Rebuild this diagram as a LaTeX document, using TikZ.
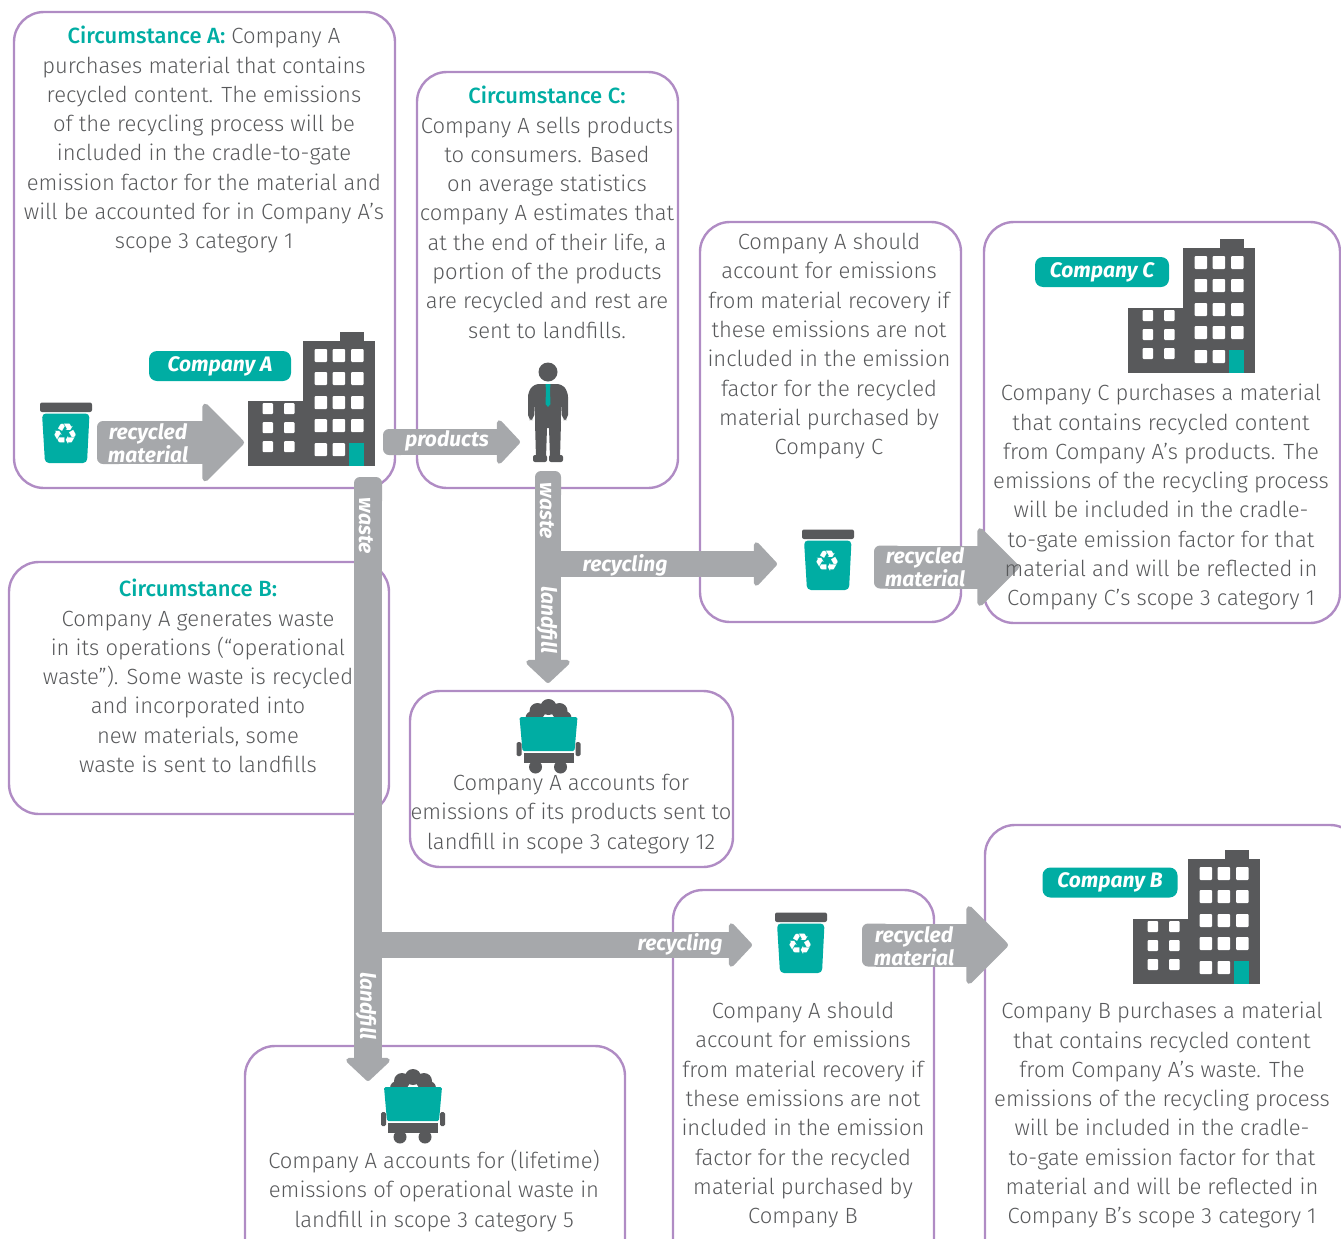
\documentclass[tikz,border=0pt]{standalone}
\usepackage{fontspec}
\usetikzlibrary{arrows.meta}
\setmainfont{Fira Sans Light}[BoldFont=Fira Sans Medium,BoldItalicFont=Fira Sans Bold Italic]
\newfontfamily\symfont{DejaVu Sans}
\definecolor{boxpurple}{HTML}{B08CC4}
\definecolor{tealgreen}{HTML}{00ADA3}
\definecolor{arrowgrey}{HTML}{A6A8AB}
\definecolor{icongrey}{HTML}{58595B}

\tikzset{
  roundbox/.style={draw=boxpurple,line width=2.4pt,rounded corners=30pt},
  bodytext/.style={align=center,anchor=north,inner sep=0pt,text=icongrey,font=\fontsize{22}{29.3}\selectfont},
  headtext/.style={font=\fontsize{22}{29.3}\selectfont\bfseries,text=tealgreen},
  arrowtext/.style={align=center,inner sep=0pt,text=white,font=\fontsize{21}{21}\selectfont\bfseries\itshape},
  companytag/.style={fill=tealgreen,rounded corners=8pt,text=white,inner sep=0pt,minimum height=30pt,font=\fontsize{21}{21}\selectfont\bfseries\itshape},
  tailbox/.style 2 args={fill=arrowgrey,rounded corners=6pt,inner sep=0pt,minimum width=#1,minimum height=#2},
  bigarrow/.style={draw=arrowgrey,line width=43pt,-{Triangle[length=43pt,width=85pt,round,line width=6pt,fill=arrowgrey,color=arrowgrey]}},
  smallarrow/.style={draw=arrowgrey,line width=26pt,-{Triangle[length=24pt,width=50pt,round,line width=5pt,fill=arrowgrey,color=arrowgrey]}},
  binicon/.pic={
    \fill[icongrey,rounded corners=2pt] (0,0.5) rectangle (52,10);
    \fill[icongrey] (22,1) arc (180:0:4);
    \fill[tealgreen,rounded corners=4pt] (2,11.5) -- (49.5,11.5) -- (47,61) -- (5,61) -- cycle;
    \node[text=white,inner sep=0pt,font=\symfont\fontsize{29}{29}\selectfont] (-sym) at (25.8,32) {\char"267B};
  },
  towericon/.pic={
    \fill[icongrey] (92,0) rectangle (116,10);
    \fill[icongrey] (55,9) rectangle (127,134);
    \fill[icongrey] (0,69) rectangle (56,134);
    \foreach \wx in {66.5,84.5,103} {
      \foreach \wy in {17,40,64,87} {
        \fill[white,rounded corners=1pt] (\wx,\wy) rectangle +(12.5,13);
      }
    }
    \fill[white,rounded corners=1pt] (66.5,111) rectangle +(12.5,13);
    \fill[white,rounded corners=1pt] (84.5,111) rectangle +(12.5,13);
    \fill[tealgreen] (101,111) rectangle (116,134);
    \foreach \wx in {14.5,36} {
      \foreach \wy in {71,90,109} {
        \fill[white,rounded corners=1pt] (\wx,\wy) rectangle +(10.5,11);
      }
    }
  },
  carticon/.pic={
    \fill[icongrey] (0,8) circle (8);
    \fill[icongrey] (-11,12) circle (8);
    \fill[icongrey] (11,12) circle (8);
    \fill[icongrey] (-16,19) circle (7);
    \fill[icongrey] (16,19) circle (7);
    \fill[tealgreen,rounded corners=1.5pt] (-29,18) -- (29,18) -- (26,52) -- (-26,52) -- cycle;
    \fill[icongrey,rounded corners=1.5pt] (-32,43) rectangle (-27,57);
    \fill[icongrey,rounded corners=1.5pt] (27,43) rectangle (32,57);
    \fill[icongrey] (-25,54) rectangle (25,64);
    \fill[icongrey] (-13,68) circle (6.5);
    \fill[icongrey] (12,68) circle (6.5);
  },
  personicon/.pic={
    \fill[icongrey] (0,10) circle (9.5);
    \fill[icongrey,rounded corners=5pt] (-20,58) -- (-20,30) -- (-14,22) -- (14,22) -- (20,30) -- (20,58) -- (14,58) -- (13,40) -- (-13,40) -- (-14,58) -- cycle;
    \fill[icongrey] (-13,30) rectangle (13,66);
    \fill[icongrey] (-13,60) -- (13,60) -- (12,96) -- (2,96) -- (1,66) -- (-1,66) -- (-2,96) -- (-12,96) -- cycle;
    \fill[icongrey,rounded corners=2pt] (-15,93) rectangle (-1,100);
    \fill[icongrey,rounded corners=2pt] (1,93) rectangle (15,100);
    \fill[tealgreen] (-2.5,22) -- (2.5,22) -- (2,28) -- (2.5,42) -- (0,45) -- (-2.5,42) -- (-2,28) -- cycle;
  }
}

\begin{document}
\begin{tikzpicture}[x=1pt,y=-1pt]
\useasboundingbox (0,0) rectangle (1341,1239);

% boxes
\draw[roundbox] (14,12) rectangle (395,488);
\draw[roundbox] (417,72) rectangle (678,488);
\draw[roundbox] (700,222) rectangle (961,622);
\draw[roundbox] (984,222) rectangle (1340,623);
\draw[roundbox] (9,562) rectangle (389,814);
\draw[roundbox] (410,691) rectangle (733,867);
\draw[roundbox] (245,1046) rectangle (625,1270);
\draw[roundbox] (673,890) rectangle (934,1270);
\draw[roundbox] (985,825) rectangle (1360,1270);

% block arrows
\coordinate (towerA) at (244,442.5);
\coordinate (manC) at (520,442);
\coordinate (dumpA) at (368,1081);
\coordinate (dumpC) at (548,683);
\coordinate (binC) at (777,564);
\coordinate (towerC) at (1019,567);
\coordinate (binB) at (752,945);
\coordinate (towerB) at (1008,945);
\coordinate (forkA) at (368,945);
\coordinate (forkC) at (548,564);

\node[tailbox={28pt}{43pt}] (tailA) at (111,442.5) {};
\node[tailbox={24pt}{26pt}] (tailP) at (395,442) {};
\node[tailbox={28pt}{30pt}] (tailWA) at (368,492) {};
\node[tailbox={26pt}{30pt}] (tailWC) at (548,486) {};
\node[tailbox={28pt}{43pt}] (tailC) at (888,567) {};
\node[tailbox={28pt}{43pt}] (tailB) at (876,945) {};

\draw[bigarrow] (tailA.center) -- (towerA);
\draw[smallarrow] (tailP.center) -- (manC);
\draw[smallarrow,line width=28pt] (tailWA.center) -- (dumpA);
\draw[smallarrow] (tailWC.center) -- (dumpC);
\draw[smallarrow] (forkC) -- (binC);
\draw[bigarrow] (tailC.center) -- (towerC);
\draw[smallarrow] (forkA) -- (binB);
\draw[bigarrow] (tailB.center) -- (towerB);

% arrow labels
\node[arrowtext] (labA) at (148,443) {recycled\\material};
\node[arrowtext] (labP) at (447,441) {products};
\node[arrowtext,rotate=-90] (labWA) at (366,526) {waste};
\node[arrowtext,rotate=-90] (labWC) at (547,511) {waste};
\node[arrowtext,rotate=-90] (labLA) at (366,1006) {landfill};
\node[arrowtext,rotate=-90] (labLC) at (547,620) {landfill};
\node[arrowtext] (labRC) at (625,565) {recycling};
\node[arrowtext] (labRB) at (680,944) {recycling};
\node[arrowtext] (labMC) at (925,567) {recycled\\material};
\node[arrowtext] (labMB) at (914,946) {recycled\\material};

% icons
\pic at (40,402) {binicon};
\pic at (802,529) {binicon};
\pic at (775,912) {binicon};
\pic at (248,332) {towericon};
\pic at (1128,239) {towericon};
\pic at (1133,850) {towericon};
\pic at (548.5,699) {carticon};
\pic at (413,1069) {carticon};
\pic at (548,362) {personicon};

\node[companytag,minimum width=142pt] (tagA) at (220,366) {Company A};
\node[companytag,minimum width=134pt] (tagC) at (1102,272) {Company C};
\node[companytag,minimum width=135pt] (tagB) at (1110,882.5) {Company B};

% texts
\node[bodytext] (textA) at (204,26) {{\bfseries\color{tealgreen}Circumstance A:} Company A\\purchases material that contains\\recycled content. The emissions\\of the recycling process will be\\included in the cradle-to-gate\\emission factor for the material and\\will be accounted for in Company A's\\scope 3 category 1};
\node[bodytext] (textC) at (547,86) {{\bfseries\color{tealgreen}Circumstance C:}\\Company A sells products\\to consumers. Based\\on average statistics\\company A estimates that\\at the end of their life, a\\portion of the  products\\are recycled and rest are\\sent to landfills.};
\node[bodytext] (textMC) at (829,233) {Company A should\\account for emissions\\from material recovery if\\these emissions are not\\included in the emission\\factor for the recycled\\material purchased by\\Company C};
\node[bodytext] (textTC) at (1161,384) {Company C purchases a material\\that contains recycled content\\from Company A's products. The\\emissions of the recycling process\\will be included in the cradle-\\to-gate emission factor for that\\material and will be reflected in\\Company C's scope 3 category 1};
\node[bodytext] (textB) at (198,579) {{\bfseries\color{tealgreen}Circumstance B:}\\Company A generates waste\\in its operations (“operational\\waste”). Some waste is recycled\\and incorporated into\\new materials, some\\waste is sent to landfills};
\node[bodytext] (textLC) at (571,774) {Company A accounts for\\emissions of its products sent to\\landfill in scope 3 category 12};
\node[bodytext] (textLB) at (434,1150) {Company A accounts for (lifetime)\\emissions of operational waste in\\landfill in scope 3 category 5};
\node[bodytext] (textMB) at (803,1002) {Company A should\\account for emissions\\from material recovery if\\these emissions are not\\included in the emission\\factor for the recycled\\material purchased by\\Company B};
\node[bodytext] (textTB) at (1162,1002) {Company B purchases a material\\that contains recycled content\\from Company A's waste. The\\emissions of the recycling process\\will be included in the cradle-\\to-gate emission factor for that\\material and will be reflected in\\Company B's scope 3 category 1};

\end{tikzpicture}
\end{document}
